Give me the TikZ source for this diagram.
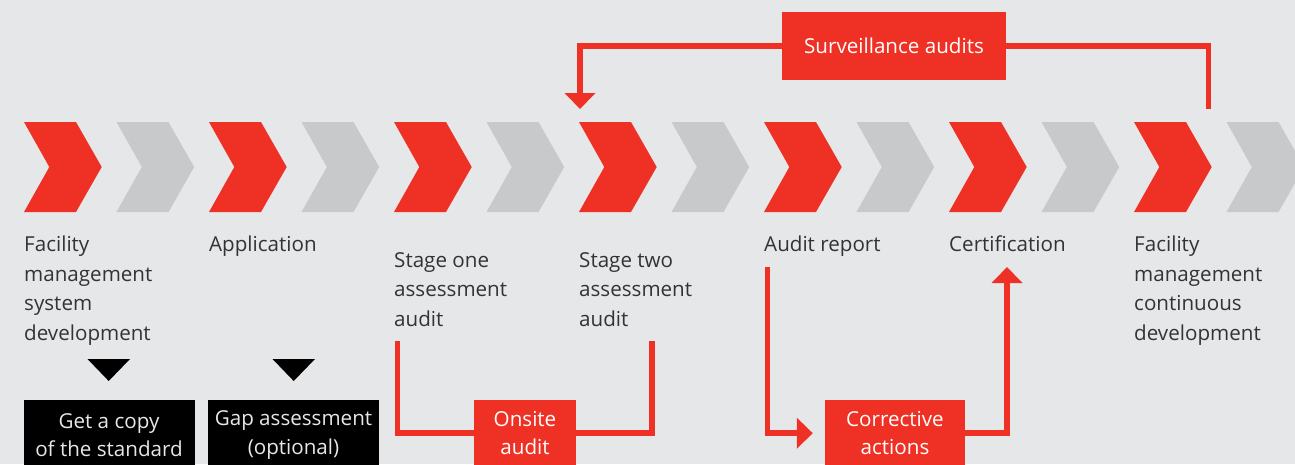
\documentclass[tikz,border=0pt]{standalone}
\usepackage{fontspec}
\setmainfont{Open Sans}
\usetikzlibrary{arrows.meta}
\definecolor{audred}{HTML}{EE3124}
\definecolor{chevgray}{HTML}{C8C9CB}
\definecolor{bggray}{HTML}{E6E7E9}
\definecolor{txtgray}{HTML}{333333}
\begin{document}
\begin{tikzpicture}[>={Triangle[length=16pt,width=30pt]},x=1pt,y=-1pt,
	stagetext/.style={anchor=base west,inner sep=0pt,align=left,text=txtgray,font=\fontsize{20.6}{29.5}\selectfont},
	blackbox/.style={anchor=north,fill=black,text=bggray,minimum width=171pt,minimum height=70pt,inner sep=0pt,align=center,font=\fontsize{20.6}{28.5}\selectfont},
	redbox/.style={anchor=north,fill=audred,text=white,minimum height=66pt,inner sep=0pt,align=center,font=\fontsize{20.6}{28.5}\selectfont},
	flow/.style={draw=audred,line width=5.5pt}]
		\useasboundingbox (0,0) rectangle (1295,464);
		\fill[bggray] (0,0) rectangle (1295,464);
		% chevrons, red and grey in turn
		\foreach \i in {0,...,6}{
			\fill[audred] (24+185*\i,122) -- ++(52,0) -- ++(25.7,45) -- ++(-25.7,45) -- ++(-52,0) -- ++(25.3,-45) -- cycle;
			\fill[chevgray] (116.5+185*\i,122) -- ++(52,0) -- ++(25.7,45) -- ++(-25.7,45) -- ++(-52,0) -- ++(25.3,-45) -- cycle;
		}
		% base anchor sits on the last line
		\node[stagetext] (fmsd) at (24,340) {Facility\\management\\system\\development};
		\node[stagetext] (appl) at (209,251.5) {Application};
		\node[stagetext] (stone) at (394,326) {Stage one\\assessment\\audit};
		\node[stagetext] (sttwo) at (579,326) {Stage two\\assessment\\audit};
		\node[stagetext] (arep) at (764,251.5) {Audit report};
		\node[stagetext] (cert) at (949,251.5) {Certification};
		\node[stagetext] (fmcd) at (1134,340) {Facility\\management\\continuous\\development};
		\fill (87.5,359) -- (130,359) -- (108.7,381) -- cycle;
		\fill (272.5,359) -- (315,359) -- (293.7,381) -- cycle;
		\node[blackbox] (copy) at (109,400) {Get a copy\\of the standard};
		\node[blackbox] (gap) at (293.5,400) {Gap assessment\\(optional)};
		\node[redbox,minimum width=102pt] (onsite) at (525,400) {Onsite\\audit};
		\node[redbox,minimum width=140pt] (corr) at (895,400) {Corrective\\actions};
		\node[redbox,minimum width=224pt,minimum height=68pt,anchor=center] (surv) at (894,46) {Surveillance audits};
		\coordinate (onL) at (397.5,341);
		\coordinate (onR) at (652,341);
		\coordinate (crIn) at (767.5,267);
		\coordinate (crOut) at (1007,267);
		\coordinate (svIn) at (580,109);
		\coordinate (svOut) at (1208.5,109);
		\draw[flow] (onL) |- (onsite.west);
		\draw[flow] (onsite.east) -| (onR);
		\draw[flow,->,shorten >=12pt] (crIn) |- (corr.west);
		\draw[flow,->] (corr.east) -| (crOut);
		\draw[flow,->] (surv.west) -| (svIn);
		\draw[flow] (svOut) |- (surv.east);
\end{tikzpicture}
\end{document}
